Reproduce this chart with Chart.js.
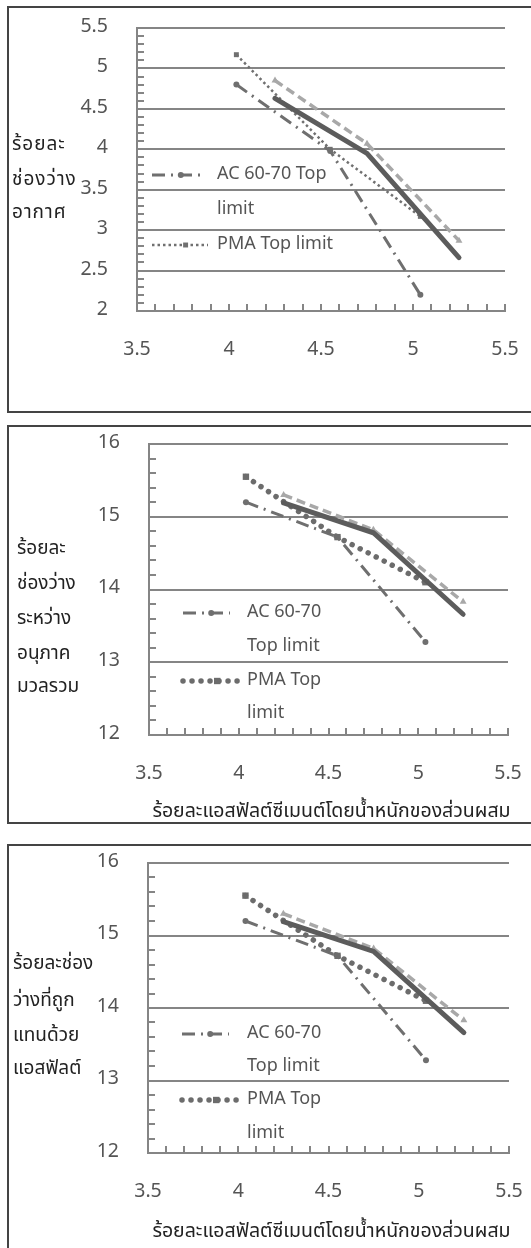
<!DOCTYPE html>
<html>
<head>
<meta charset="utf-8">
<script src="https://cdn.jsdelivr.net/npm/chart.js@4.4.1/dist/chart.umd.min.js"></script>
<style>
  html, body { margin: 0; padding: 0; background: #fff; overflow: hidden; width: 531px; height: 1248px; }
  .panel { position: absolute; left: 7px; width: 560px; border: 2px solid #444; box-sizing: border-box; background: #fff; }
  .box { position: absolute; left: 0; top: 0; width: 522px; }
</style>
</head>
<body>
<div class="panel" style="top:6px;height:407px"><div class="box" style="height:403px"><canvas id="c1"></canvas></div></div>
<div class="panel" style="top:425px;height:399px"><div class="box" style="height:395px"><canvas id="c2"></canvas></div></div>
<div class="panel" style="top:844px;height:430px"><div class="box" style="height:402px"><canvas id="c3"></canvas></div></div>
<script>
// x positions (asphalt cement % by weight)
const xAc = [4.04, 4.55, 5.04];
const xMix = [4.25, 4.75, 5.25];

// panel 1 - air voids
const airAc = [4.8, 3.98, 2.2];
const airPma = [5.17, 4.0, 3.17];
const airSolid = [4.63, 3.95, 2.66];
const airLight = [4.85, 4.07, 2.87];

// panel 2 - VMA
const vmaAc = [15.2, 14.72, 13.28];
const vmaPma = [15.55, 14.72, 14.1];
const vmaSolid = [15.19, 14.78, 13.66];
const vmaLight = [15.3, 14.82, 13.83];

// panel 3 - VFA
const vfaAc = [15.2, 14.72, 13.28];
const vfaPma = [15.55, 14.72, 14.1];
const vfaSolid = [15.19, 14.78, 13.66];
const vfaLight = [15.3, 14.82, 13.83];

const xTicks = [3.5, 4, 4.5, 5, 5.5];
const airTicks = [2, 2.5, 3, 3.5, 4, 4.5, 5, 5.5];
const pctTicks = [12, 13, 14, 15, 16];

const FONT = "'Noto Sans Thai', 'Noto Sans', sans-serif";
const gridGray = '#858585';
const tickGray = '#555';

function isIn(list, v) { return list.some(t => Math.abs(t - v) < 1e-6); }

function series(label, xs, ys, style) {
  return Object.assign({
    label: label,
    data: xs.map((x, i) => ({ x: x, y: ys[i] })),
    showLine: true,
    fill: false,
    tension: 0,
    pointBorderWidth: 0
  }, style);
}

const annot = {
  id: 'annot',
  afterDraw(chart, args, o) {
    const ctx = chart.ctx;
    const ca = chart.chartArea;
    ctx.save();
    ctx.textBaseline = 'middle';
    ctx.textAlign = 'left';
    ctx.fillStyle = '#222';
    ctx.font = '19px ' + FONT;
    ctx.letterSpacing = o.yTitleSpacing || '0px';
    o.yTitle.forEach((t, i) => ctx.fillText(t, o.yTitleX, o.yTitleY[i]));
    ctx.letterSpacing = '0px';
    if (o.xTitle) {
      ctx.font = '19.5px ' + FONT;
      ctx.textAlign = 'center';
      ctx.fillText(o.xTitle, (ca.left + ca.right) / 2 + 3, ca.bottom + o.xTitleDy);
    }
    ctx.textAlign = 'left';
    o.legend.forEach(item => {
      const ds = chart.data.datasets[item.ds];
      const x0 = ca.left + item.x0, x1 = ca.left + item.x1, y = ca.top + item.y;
      ctx.strokeStyle = ds.borderColor;
      ctx.lineWidth = ds.borderWidth;
      ctx.lineCap = ds.borderCapStyle || 'butt';
      ctx.setLineDash(ds.borderDash || []);
      ctx.beginPath();
      ctx.moveTo(x0, y);
      ctx.lineTo(x1, y);
      ctx.stroke();
      ctx.setLineDash([]);
      ctx.fillStyle = ds.backgroundColor;
      Chart.helpers.drawPoint(ctx, { pointStyle: ds.pointStyle, radius: ds.pointRadius, borderWidth: 0, rotation: 0 }, x0 + (x1 - x0) * 0.6, y);
      ctx.fillStyle = tickGray;
      ctx.font = '18px ' + FONT;
      item.text.forEach((t, i) => ctx.fillText(t, ca.left + item.tx, y + i * item.gap));
    });
    ctx.restore();
  }
};

function makeChart(id, cfg) {
  const acStyle = { borderColor: '#6f6f6f', backgroundColor: '#6f6f6f', borderWidth: 3, borderDash: [13, 6, 2, 6], pointStyle: 'circle', pointRadius: 3, order: 4 };
  const pmaStyle = cfg.bigDots
    ? { borderColor: '#6c6c6c', backgroundColor: '#6c6c6c', borderWidth: 5.5, borderDash: [0.01, 9], borderCapStyle: 'round', pointStyle: 'rect', pointRadius: 4.5, order: 3 }
    : { borderColor: '#707070', backgroundColor: '#707070', borderWidth: 2.5, borderDash: [2.5, 3], pointStyle: 'rect', pointRadius: 3.5, order: 3 };
  const solidStyle = { borderColor: '#5c5c5c', backgroundColor: '#5c5c5c', borderWidth: 5, borderCapStyle: 'round', pointRadius: 0, order: 1 };
  const lightStyle = { borderColor: '#a8a8a8', backgroundColor: '#a8a8a8', borderWidth: 3.5, borderDash: [9, 5], pointStyle: 'triangle', pointRadius: 4, order: 2 };

  return new Chart(document.getElementById(id), {
    type: 'scatter',
    data: {
      datasets: [
        series('AC 60-70 Top limit', xAc, cfg.ac, acStyle),
        series('PMA Top limit', xAc, cfg.pma, pmaStyle),
        series('Series 3', xMix, cfg.solid, solidStyle),
        series('Series 4', xMix, cfg.light, lightStyle)
      ]
    },
    options: {
      responsive: true,
      maintainAspectRatio: false,
      animation: false,
      layout: { padding: { left: 0, top: cfg.top, right: cfg.right, bottom: 0 } },
      plugins: {
        legend: { display: false },
        tooltip: { enabled: false },
        annot: cfg.annot
      },
      scales: {
        x: {
          type: 'linear', min: 3.5, max: 5.5,
          afterFit: s => { s.height = cfg.xh; s.paddingLeft = 0; s.paddingRight = 0; },
          grid: { color: 'transparent', tickColor: gridGray, tickLength: -7, tickWidth: 2, lineWidth: 2 },
          border: { color: gridGray, width: 2 },
          ticks: {
            count: 21, autoSkip: false, maxRotation: 0, padding: 35, color: tickGray,
            font: { family: FONT, size: 19.5 },
            callback: v => isIn(xTicks, v) ? String(v) : ''
          }
        },
        y: {
          type: 'linear', min: cfg.yTicks[0], max: cfg.yTicks[cfg.yTicks.length - 1],
          afterFit: s => { s.width = cfg.yw; s.paddingTop = 0; s.paddingBottom = 0; },
          grid: { color: c => isIn(cfg.yTicks, c.tick.value) ? gridGray : 'transparent', tickColor: gridGray, tickLength: -7, tickWidth: 2, lineWidth: 2 },
          border: { color: gridGray, width: 2 },
          ticks: {
            count: cfg.yCount, autoSkip: false, padding: 36, color: tickGray,
            font: { family: FONT, size: 19.5 },
            callback: v => isIn(cfg.yTicks, v) ? String(v) : ''
          }
        }
      }
    },
    plugins: [annot]
  });
}

const xTitle = 'ร้อยละแอสฟัลต์ซีเมนต์โดยน้ำหนักของส่วนผสม';

makeChart('c1', {
  ac: airAc, pma: airPma, solid: airSolid, light: airLight,
  yTicks: airTicks, yCount: 36, bigDots: false,
  top: 20, right: 26, yw: 128, xh: 100,
  annot: {
    yTitle: ['ร้อยละ', 'ช่องว่าง', 'อากาศ'], yTitleX: 3, yTitleY: [138, 173, 206], yTitleSpacing: '1px',
    legend: [
      { ds: 0, x0: 15, x1: 63, y: 147, tx: 80, gap: 35, text: ['AC 60-70 Top', 'limit'] },
      { ds: 1, x0: 15, x1: 71, y: 217, tx: 80, gap: 35, text: ['PMA Top limit'] }
    ]
  }
});

makeChart('c2', {
  ac: vmaAc, pma: vmaPma, solid: vmaSolid, light: vmaLight,
  yTicks: pctTicks, yCount: 21, bigDots: true,
  top: 17, right: 23, yw: 140, xh: 87,
  annot: {
    yTitle: ['ร้อยละ', 'ช่องว่าง', 'ระหว่าง', 'อนุภาค', 'มวลรวม'], yTitleX: 8, yTitleY: [123, 158, 193, 228, 261],
    xTitle: xTitle, xTitleDy: 78,
    legend: [
      { ds: 0, x0: 34, x1: 81, y: 169, tx: 98, gap: 34, text: ['AC 60-70', 'Top limit'] },
      { ds: 1, x0: 34, x1: 91, y: 237, tx: 98, gap: 33, text: ['PMA Top', 'limit'] }
    ]
  }
});

makeChart('c3', {
  ac: vfaAc, pma: vfaPma, solid: vfaSolid, light: vfaLight,
  yTicks: pctTicks, yCount: 21, bigDots: true,
  top: 17, right: 22, yw: 139, xh: 95,
  annot: {
    yTitle: ['ร้อยละช่อง', 'ว่างที่ถูก', 'แทนด้วย', 'แอสฟัลต์'], yTitleX: 4, yTitleY: [119, 156, 191, 224],
    xTitle: xTitle, xTitleDy: 80,
    legend: [
      { ds: 0, x0: 34, x1: 81, y: 171, tx: 99, gap: 33, text: ['AC 60-70', 'Top limit'] },
      { ds: 1, x0: 34, x1: 91, y: 237, tx: 99, gap: 34, text: ['PMA Top', 'limit'] }
    ]
  }
});
</script>
</body>
</html>
